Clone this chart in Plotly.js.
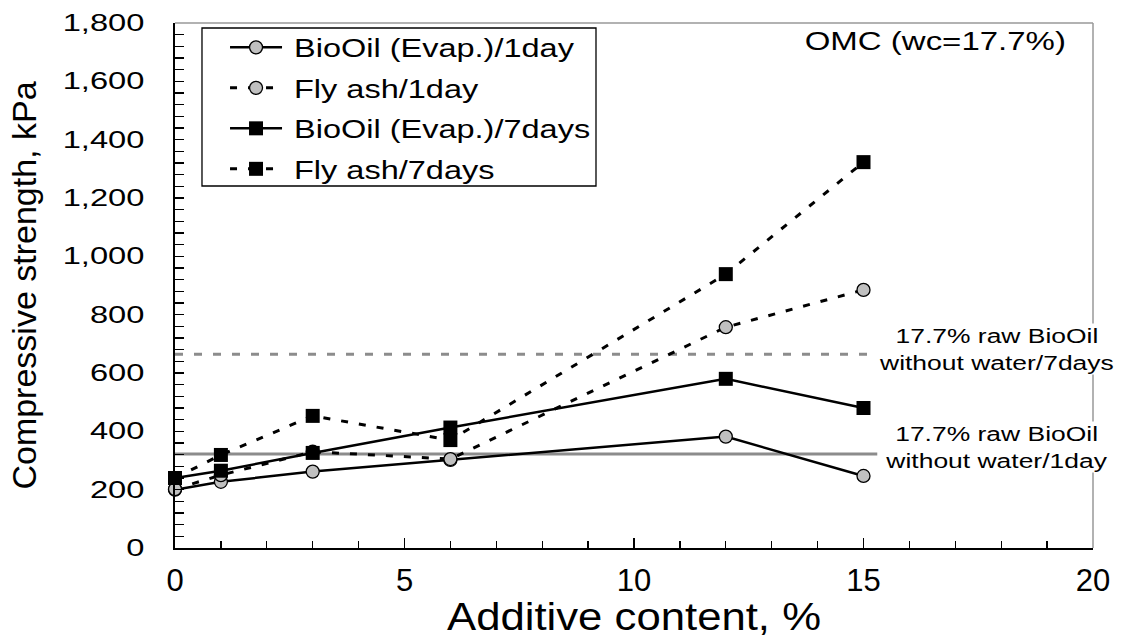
<!DOCTYPE html>
<html>
<head>
<meta charset="utf-8">
<script src="https://cdn.plot.ly/plotly-3.0.1.min.js"></script>
<style>html,body{margin:0;padding:0;background:#fff;}#chart{width:1122px;height:638px;}</style>
</head>
<body>
<div id="chart"></div>
<script>
// Data
const additive = [0, 1, 3, 6, 12, 15];
const bioOil1day = [200, 227, 262, 302, 382, 247];
const flyAsh1day = [202, 250, 330, 305, 757, 885];
const bioOil7days = [240, 265, 326, 413, 580, 480];
const flyAsh7days = [240, 319, 453, 370, 939, 1323];
const rawRefX = [0, 15.3];
const raw1day = [322, 322];
const raw7days = [664, 664];
const seriesNames = ["BioOil (Evap.)/1day", "Fly ash/1day", "BioOil (Evap.)/7days", "Fly ash/7days"];
const refLabels = ["17.7% raw BioOil<br>without water/7days", "17.7% raw BioOil<br>without water/1day"];
const xTicks = [0, 5, 10, 15, 20];
const yTicks = [0, 200, 400, 600, 800, 1000, 1200, 1400, 1600, 1800];

const sans = "Liberation Sans, Arial, Helvetica, sans-serif";

const circleMarker = {symbol: "circle", size: 13, color: "#c0c0c0", line: {color: "#000", width: 1.3}};
const squareMarker = {symbol: "square", size: 14, color: "#000", line: {color: "#000", width: 0}};

const traces = [
  {x: rawRefX, y: raw1day, mode: "lines", line: {color: "#8c8c8c", width: 3}, showlegend: false, hoverinfo: "skip"},
  {x: rawRefX, y: raw7days, mode: "lines", line: {color: "#8c8c8c", width: 3, dash: "8px,11px"}, showlegend: false, hoverinfo: "skip"},
  {x: additive, y: bioOil1day, name: seriesNames[0], mode: "lines+markers", cliponaxis: false, line: {color: "#000", width: 2.5}, marker: circleMarker, legendgroup: "a"},
  {x: additive, y: flyAsh1day, name: seriesNames[1], mode: "lines+markers", cliponaxis: false, line: {color: "#000", width: 3, dash: "7px,11px"}, marker: circleMarker, legendgroup: "b"},
  {x: additive, y: bioOil7days, name: seriesNames[2], mode: "lines+markers", cliponaxis: false, line: {color: "#000", width: 2.5}, marker: squareMarker, legendgroup: "c"},
  {x: additive, y: flyAsh7days, name: seriesNames[3], mode: "lines+markers", cliponaxis: false, line: {color: "#000", width: 3, dash: "7px,11px"}, marker: squareMarker, legendgroup: "d"}
];

const layout = {
  width: 1122, height: 638,
  margin: {l: 175, r: 29, t: 23, b: 90, pad: 0},
  paper_bgcolor: "#fff", plot_bgcolor: "#fff",
  showlegend: true,
  font: {family: sans, color: "#000"},
  xaxis: {
    range: [0, 20], tickvals: xTicks, ticks: "inside", ticklen: 10, tickwidth: 1.3, tickcolor: "#000",
    minor: {dtick: 1, ticks: "inside", ticklen: 7, tickwidth: 1.3, tickcolor: "#000", showgrid: false},
    showline: true, linecolor: "#000", linewidth: 2, showgrid: false, zeroline: false,
    tickfont: {family: sans, size: 31, color: "#000"}, ticklabelstandoff: 4,
    title: {text: "Additive content, %", font: {family: sans, size: 38, color: "#000"}, standoff: 12},
    automargin: false, fixedrange: true
  },
  yaxis: {
    range: [0, 1800], tickvals: yTicks, tickformat: ",d", ticks: "inside", ticklen: 9, tickwidth: 1.3, tickcolor: "#000",
    minor: {dtick: 40, ticks: "inside", ticklen: 9, tickwidth: 1.3, tickcolor: "#000", showgrid: false},
    showline: true, linecolor: "#000", linewidth: 2, showgrid: false, zeroline: false,
    tickfont: {family: sans, size: 23, color: "#000"}, ticklabelstandoff: 24,
    title: {text: "Compressive strength, kPa", font: {family: sans, size: 34, color: "#000"}, standoff: 40},
    automargin: false, fixedrange: true
  },
  legend: {
    x: 0.0545, y: 0.997, xanchor: "left", yanchor: "top",
    bgcolor: "rgba(0,0,0,0)", borderwidth: 0,
    font: {family: sans, size: 25, color: "#000"},
    itemwidth: 52, tracegroupgap: 5, traceorder: "grouped"
  },
  shapes: [
    {type: "rect", xref: "paper", yref: "paper", x0: 0.0294, x1: 0.4586, y0: 0.6895, y1: 0.9905, layer: "above",
     fillcolor: "#fff", line: {color: "#000", width: 1.3}},
    {type: "line", xref: "paper", yref: "paper", x0: 0, x1: 1, y0: 1, y1: 1, line: {color: "#999", width: 1.5}},
    {type: "line", xref: "paper", yref: "paper", x0: 1, x1: 1, y0: 0, y1: 1, line: {color: "#999", width: 1.5}}
  ],
  annotations: [
    {xref: "paper", yref: "paper", x: 0.9728, y: 0.9657, xanchor: "right", yanchor: "middle", showarrow: false,
     text: "OMC (wc=17.7%)", font: {family: sans, size: 25, color: "#000"}},
    {xref: "x", yref: "y", x: 17.89, y: raw7days[0] + 20, xanchor: "center", yanchor: "middle", showarrow: false,
     text: refLabels[0], bgcolor: "#fff", borderpad: 0, font: {family: sans, size: 21, color: "#000"}},
    {xref: "x", yref: "y", x: 17.9, y: raw1day[0] + 26, xanchor: "center", yanchor: "middle", showarrow: false,
     text: refLabels[1], bgcolor: "#fff", borderpad: 0, font: {family: sans, size: 21, color: "#000"}}
  ]
};

// horizontal stretch of rendered text (the reference uses wide lettering)
function stretch(el, sx, mode, dx) {
  if (!el) return;
  const bb = el.getBBox();
  const cx = mode === "start" ? bb.x : (mode === "end" ? bb.x + bb.width : bb.x + bb.width / 2);
  const prev = el.getAttribute("transform") || "";
  el.setAttribute("transform", prev + " translate(" + (cx + (dx || 0)) + ",0) scale(" + sx + ",1) translate(" + (-cx) + ",0)");
}

const gd = document.getElementById("chart");
Plotly.newPlot(gd, traces, layout, {staticPlot: true, displayModeBar: false}).then(function () {
  gd.querySelectorAll(".legend [clip-path], .legend[clip-path]").forEach(function (e) { e.removeAttribute("clip-path"); });
  gd.querySelectorAll(".ytick text").forEach(function (t) { stretch(t, 1.42, "end"); });
  gd.querySelectorAll(".legendtext").forEach(function (t) { stretch(t, 1.3, "start", 7); });
  gd.querySelectorAll(".g-xtitle text").forEach(function (t) { stretch(t, 1.15, "middle"); });
  const ann = gd.querySelectorAll(".annotation");
  ann.forEach(function (a) {
    const idx = a.getAttribute("data-index");
    const txt = a.querySelector("text.annotation-text");
    const bg = a.querySelector("rect.bg");
    if (idx === "0") {
      stretch(txt, 1.32, "end");
    } else {
      stretch(txt, 1.26, "middle");
      stretch(bg, 1.26, "middle");
    }
  });
});
</script>
</body>
</html>
